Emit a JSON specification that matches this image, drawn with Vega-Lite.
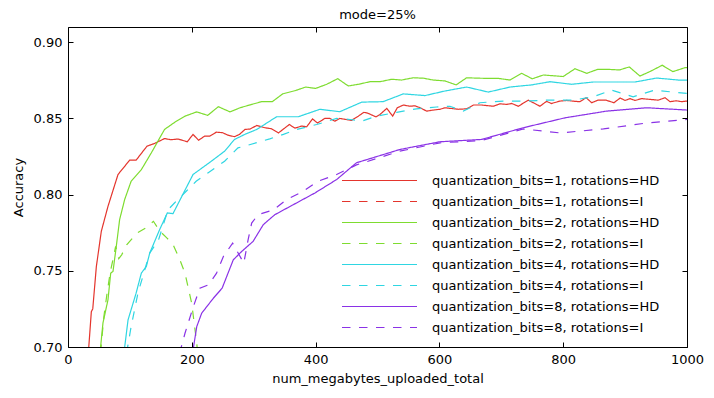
{
  "$schema": "https://vega.github.io/schema/vega-lite/v6.json",
  "width": 619,
  "height": 320,
  "autosize": {"type": "none"},
  "padding": {"left": 68, "top": 27, "right": 27, "bottom": 51},
  "background": "white",
  "title": {"text": "mode=25%", "fontSize": 13, "fontWeight": "normal", "font": "DejaVu Sans", "color": "black", "offset": 5},
  "config": {
    "view": {"stroke": "black", "strokeWidth": 1},
    "axis": {"labelFont": "DejaVu Sans", "titleFont": "DejaVu Sans", "labelFontSize": 13, "titleFontSize": 13, "labelColor": "black", "titleColor": "black", "titleFontWeight": "normal", "tickColor": "black", "domain": false, "grid": false, "tickSize": -5, "labelPadding": 11, "labelFlush": false, "labelOverlap": false},
    "legend": {"labelFont": "DejaVu Sans", "labelFontSize": 13, "labelColor": "black", "labelLimit": 500}
  },
  "data": {"values": [
    {"series": "quantization_bits=1, rotations=HD", "mb": 30, "acc": 0.68},
    {"series": "quantization_bits=1, rotations=HD", "mb": 37.7, "acc": 0.7232},
    {"series": "quantization_bits=1, rotations=HD", "mb": 40, "acc": 0.725},
    {"series": "quantization_bits=1, rotations=HD", "mb": 45.8, "acc": 0.7528},
    {"series": "quantization_bits=1, rotations=HD", "mb": 53.8, "acc": 0.7759},
    {"series": "quantization_bits=1, rotations=HD", "mb": 64.6, "acc": 0.7923},
    {"series": "quantization_bits=1, rotations=HD", "mb": 80.8, "acc": 0.8132},
    {"series": "quantization_bits=1, rotations=HD", "mb": 99.6, "acc": 0.8226},
    {"series": "quantization_bits=1, rotations=HD", "mb": 110, "acc": 0.8226},
    {"series": "quantization_bits=1, rotations=HD", "mb": 127.6, "acc": 0.8318},
    {"series": "quantization_bits=1, rotations=HD", "mb": 140, "acc": 0.8336},
    {"series": "quantization_bits=1, rotations=HD", "mb": 156, "acc": 0.8368},
    {"series": "quantization_bits=1, rotations=HD", "mb": 166, "acc": 0.836},
    {"series": "quantization_bits=1, rotations=HD", "mb": 177.7, "acc": 0.8365},
    {"series": "quantization_bits=1, rotations=HD", "mb": 192.7, "acc": 0.8347},
    {"series": "quantization_bits=1, rotations=HD", "mb": 202, "acc": 0.8395},
    {"series": "quantization_bits=1, rotations=HD", "mb": 211, "acc": 0.8357},
    {"series": "quantization_bits=1, rotations=HD", "mb": 220.7, "acc": 0.8384},
    {"series": "quantization_bits=1, rotations=HD", "mb": 229, "acc": 0.8384},
    {"series": "quantization_bits=1, rotations=HD", "mb": 239.6, "acc": 0.841},
    {"series": "quantization_bits=1, rotations=HD", "mb": 250, "acc": 0.8406},
    {"series": "quantization_bits=1, rotations=HD", "mb": 258.5, "acc": 0.839},
    {"series": "quantization_bits=1, rotations=HD", "mb": 269, "acc": 0.838},
    {"series": "quantization_bits=1, rotations=HD", "mb": 277, "acc": 0.8395},
    {"series": "quantization_bits=1, rotations=HD", "mb": 286, "acc": 0.8428},
    {"series": "quantization_bits=1, rotations=HD", "mb": 294, "acc": 0.843},
    {"series": "quantization_bits=1, rotations=HD", "mb": 305, "acc": 0.8454},
    {"series": "quantization_bits=1, rotations=HD", "mb": 318, "acc": 0.8439},
    {"series": "quantization_bits=1, rotations=HD", "mb": 329, "acc": 0.8432},
    {"series": "quantization_bits=1, rotations=HD", "mb": 340, "acc": 0.8405},
    {"series": "quantization_bits=1, rotations=HD", "mb": 357.5, "acc": 0.846},
    {"series": "quantization_bits=1, rotations=HD", "mb": 366.7, "acc": 0.8436},
    {"series": "quantization_bits=1, rotations=HD", "mb": 377.5, "acc": 0.845},
    {"series": "quantization_bits=1, rotations=HD", "mb": 385.6, "acc": 0.8445},
    {"series": "quantization_bits=1, rotations=HD", "mb": 395, "acc": 0.8497},
    {"series": "quantization_bits=1, rotations=HD", "mb": 403, "acc": 0.847},
    {"series": "quantization_bits=1, rotations=HD", "mb": 415, "acc": 0.85},
    {"series": "quantization_bits=1, rotations=HD", "mb": 423, "acc": 0.85},
    {"series": "quantization_bits=1, rotations=HD", "mb": 431, "acc": 0.8482},
    {"series": "quantization_bits=1, rotations=HD", "mb": 439, "acc": 0.85},
    {"series": "quantization_bits=1, rotations=HD", "mb": 458, "acc": 0.8487},
    {"series": "quantization_bits=1, rotations=HD", "mb": 469, "acc": 0.8515},
    {"series": "quantization_bits=1, rotations=HD", "mb": 478, "acc": 0.854},
    {"series": "quantization_bits=1, rotations=HD", "mb": 484, "acc": 0.8535},
    {"series": "quantization_bits=1, rotations=HD", "mb": 497.6, "acc": 0.851},
    {"series": "quantization_bits=1, rotations=HD", "mb": 504, "acc": 0.8526},
    {"series": "quantization_bits=1, rotations=HD", "mb": 515, "acc": 0.8566},
    {"series": "quantization_bits=1, rotations=HD", "mb": 524.5, "acc": 0.8515},
    {"series": "quantization_bits=1, rotations=HD", "mb": 532, "acc": 0.857},
    {"series": "quantization_bits=1, rotations=HD", "mb": 541.7, "acc": 0.8588},
    {"series": "quantization_bits=1, rotations=HD", "mb": 552.5, "acc": 0.858},
    {"series": "quantization_bits=1, rotations=HD", "mb": 560.6, "acc": 0.8583},
    {"series": "quantization_bits=1, rotations=HD", "mb": 568.7, "acc": 0.857},
    {"series": "quantization_bits=1, rotations=HD", "mb": 579.5, "acc": 0.8548},
    {"series": "quantization_bits=1, rotations=HD", "mb": 590, "acc": 0.8555},
    {"series": "quantization_bits=1, rotations=HD", "mb": 601, "acc": 0.856},
    {"series": "quantization_bits=1, rotations=HD", "mb": 609, "acc": 0.857},
    {"series": "quantization_bits=1, rotations=HD", "mb": 620, "acc": 0.8565},
    {"series": "quantization_bits=1, rotations=HD", "mb": 630.5, "acc": 0.856},
    {"series": "quantization_bits=1, rotations=HD", "mb": 644, "acc": 0.8563},
    {"series": "quantization_bits=1, rotations=HD", "mb": 655, "acc": 0.8588},
    {"series": "quantization_bits=1, rotations=HD", "mb": 668, "acc": 0.8588},
    {"series": "quantization_bits=1, rotations=HD", "mb": 687, "acc": 0.858},
    {"series": "quantization_bits=1, rotations=HD", "mb": 698, "acc": 0.8596},
    {"series": "quantization_bits=1, rotations=HD", "mb": 708.7, "acc": 0.8592},
    {"series": "quantization_bits=1, rotations=HD", "mb": 717, "acc": 0.8598},
    {"series": "quantization_bits=1, rotations=HD", "mb": 727.5, "acc": 0.858},
    {"series": "quantization_bits=1, rotations=HD", "mb": 743.6, "acc": 0.862},
    {"series": "quantization_bits=1, rotations=HD", "mb": 762.5, "acc": 0.858},
    {"series": "quantization_bits=1, rotations=HD", "mb": 773, "acc": 0.8612},
    {"series": "quantization_bits=1, rotations=HD", "mb": 781, "acc": 0.8598},
    {"series": "quantization_bits=1, rotations=HD", "mb": 795, "acc": 0.8614},
    {"series": "quantization_bits=1, rotations=HD", "mb": 806, "acc": 0.8618},
    {"series": "quantization_bits=1, rotations=HD", "mb": 819, "acc": 0.8612},
    {"series": "quantization_bits=1, rotations=HD", "mb": 827, "acc": 0.861},
    {"series": "quantization_bits=1, rotations=HD", "mb": 837, "acc": 0.8636},
    {"series": "quantization_bits=1, rotations=HD", "mb": 846, "acc": 0.8603},
    {"series": "quantization_bits=1, rotations=HD", "mb": 856, "acc": 0.862},
    {"series": "quantization_bits=1, rotations=HD", "mb": 869, "acc": 0.862},
    {"series": "quantization_bits=1, rotations=HD", "mb": 882, "acc": 0.8603},
    {"series": "quantization_bits=1, rotations=HD", "mb": 892, "acc": 0.8634},
    {"series": "quantization_bits=1, rotations=HD", "mb": 900, "acc": 0.8618},
    {"series": "quantization_bits=1, rotations=HD", "mb": 908, "acc": 0.863},
    {"series": "quantization_bits=1, rotations=HD", "mb": 916, "acc": 0.8618},
    {"series": "quantization_bits=1, rotations=HD", "mb": 927, "acc": 0.863},
    {"series": "quantization_bits=1, rotations=HD", "mb": 940, "acc": 0.8625},
    {"series": "quantization_bits=1, rotations=HD", "mb": 953.6, "acc": 0.862},
    {"series": "quantization_bits=1, rotations=HD", "mb": 964.5, "acc": 0.8636},
    {"series": "quantization_bits=1, rotations=HD", "mb": 972.5, "acc": 0.861},
    {"series": "quantization_bits=1, rotations=HD", "mb": 983, "acc": 0.8616},
    {"series": "quantization_bits=1, rotations=HD", "mb": 991, "acc": 0.861},
    {"series": "quantization_bits=1, rotations=HD", "mb": 1000, "acc": 0.8614},

    {"series": "quantization_bits=2, rotations=HD", "mb": 49, "acc": 0.685},
    {"series": "quantization_bits=2, rotations=HD", "mb": 56.5, "acc": 0.7158},
    {"series": "quantization_bits=2, rotations=HD", "mb": 64.6, "acc": 0.731},
    {"series": "quantization_bits=2, rotations=HD", "mb": 69, "acc": 0.7485},
    {"series": "quantization_bits=2, rotations=HD", "mb": 72.7, "acc": 0.7496},
    {"series": "quantization_bits=2, rotations=HD", "mb": 78, "acc": 0.766},
    {"series": "quantization_bits=2, rotations=HD", "mb": 83.4, "acc": 0.7836},
    {"series": "quantization_bits=2, rotations=HD", "mb": 91.5, "acc": 0.7967},
    {"series": "quantization_bits=2, rotations=HD", "mb": 102, "acc": 0.8088},
    {"series": "quantization_bits=2, rotations=HD", "mb": 118.5, "acc": 0.8164},
    {"series": "quantization_bits=2, rotations=HD", "mb": 134.6, "acc": 0.8274},
    {"series": "quantization_bits=2, rotations=HD", "mb": 156, "acc": 0.8428},
    {"series": "quantization_bits=2, rotations=HD", "mb": 172.9, "acc": 0.8476},
    {"series": "quantization_bits=2, rotations=HD", "mb": 189, "acc": 0.8515},
    {"series": "quantization_bits=2, rotations=HD", "mb": 208, "acc": 0.8543},
    {"series": "quantization_bits=2, rotations=HD", "mb": 225.7, "acc": 0.852},
    {"series": "quantization_bits=2, rotations=HD", "mb": 242.8, "acc": 0.8577},
    {"series": "quantization_bits=2, rotations=HD", "mb": 261.7, "acc": 0.8543},
    {"series": "quantization_bits=2, rotations=HD", "mb": 277.9, "acc": 0.857},
    {"series": "quantization_bits=2, rotations=HD", "mb": 296.7, "acc": 0.8592},
    {"series": "quantization_bits=2, rotations=HD", "mb": 312.9, "acc": 0.861},
    {"series": "quantization_bits=2, rotations=HD", "mb": 330, "acc": 0.861},
    {"series": "quantization_bits=2, rotations=HD", "mb": 346.8, "acc": 0.8661},
    {"series": "quantization_bits=2, rotations=HD", "mb": 366.7, "acc": 0.8682},
    {"series": "quantization_bits=2, rotations=HD", "mb": 384, "acc": 0.8706},
    {"series": "quantization_bits=2, rotations=HD", "mb": 400, "acc": 0.8697},
    {"series": "quantization_bits=2, rotations=HD", "mb": 418, "acc": 0.8724},
    {"series": "quantization_bits=2, rotations=HD", "mb": 435.7, "acc": 0.8761},
    {"series": "quantization_bits=2, rotations=HD", "mb": 452.8, "acc": 0.8713},
    {"series": "quantization_bits=2, rotations=HD", "mb": 469, "acc": 0.8724},
    {"series": "quantization_bits=2, rotations=HD", "mb": 488, "acc": 0.8741},
    {"series": "quantization_bits=2, rotations=HD", "mb": 504, "acc": 0.8741},
    {"series": "quantization_bits=2, rotations=HD", "mb": 523, "acc": 0.8757},
    {"series": "quantization_bits=2, rotations=HD", "mb": 539, "acc": 0.8752},
    {"series": "quantization_bits=2, rotations=HD", "mb": 558, "acc": 0.8767},
    {"series": "quantization_bits=2, rotations=HD", "mb": 574, "acc": 0.8764},
    {"series": "quantization_bits=2, rotations=HD", "mb": 590, "acc": 0.8752},
    {"series": "quantization_bits=2, rotations=HD", "mb": 609, "acc": 0.8746},
    {"series": "quantization_bits=2, rotations=HD", "mb": 627, "acc": 0.872},
    {"series": "quantization_bits=2, rotations=HD", "mb": 644, "acc": 0.8767},
    {"series": "quantization_bits=2, rotations=HD", "mb": 663, "acc": 0.8764},
    {"series": "quantization_bits=2, rotations=HD", "mb": 679, "acc": 0.8763},
    {"series": "quantization_bits=2, rotations=HD", "mb": 695, "acc": 0.8763},
    {"series": "quantization_bits=2, rotations=HD", "mb": 714, "acc": 0.8752},
    {"series": "quantization_bits=2, rotations=HD", "mb": 733, "acc": 0.8796},
    {"series": "quantization_bits=2, rotations=HD", "mb": 750, "acc": 0.876},
    {"series": "quantization_bits=2, rotations=HD", "mb": 768, "acc": 0.8785},
    {"series": "quantization_bits=2, rotations=HD", "mb": 784, "acc": 0.878},
    {"series": "quantization_bits=2, rotations=HD", "mb": 800, "acc": 0.8775},
    {"series": "quantization_bits=2, rotations=HD", "mb": 819, "acc": 0.8826},
    {"series": "quantization_bits=2, rotations=HD", "mb": 838, "acc": 0.8796},
    {"series": "quantization_bits=2, rotations=HD", "mb": 855.7, "acc": 0.8822},
    {"series": "quantization_bits=2, rotations=HD", "mb": 873, "acc": 0.8822},
    {"series": "quantization_bits=2, rotations=HD", "mb": 890.7, "acc": 0.8818},
    {"series": "quantization_bits=2, rotations=HD", "mb": 906.8, "acc": 0.8838},
    {"series": "quantization_bits=2, rotations=HD", "mb": 924, "acc": 0.8778},
    {"series": "quantization_bits=2, rotations=HD", "mb": 941.8, "acc": 0.8811},
    {"series": "quantization_bits=2, rotations=HD", "mb": 960, "acc": 0.8849},
    {"series": "quantization_bits=2, rotations=HD", "mb": 977, "acc": 0.8807},
    {"series": "quantization_bits=2, rotations=HD", "mb": 996.8, "acc": 0.8833},
    {"series": "quantization_bits=2, rotations=HD", "mb": 1000, "acc": 0.8834},

    {"series": "quantization_bits=2, rotations=I", "mb": 50, "acc": 0.685},
    {"series": "quantization_bits=2, rotations=I", "mb": 58, "acc": 0.72},
    {"series": "quantization_bits=2, rotations=I", "mb": 63, "acc": 0.735},
    {"series": "quantization_bits=2, rotations=I", "mb": 68, "acc": 0.7485},
    {"series": "quantization_bits=2, rotations=I", "mb": 77, "acc": 0.766},
    {"series": "quantization_bits=2, rotations=I", "mb": 82, "acc": 0.758},
    {"series": "quantization_bits=2, rotations=I", "mb": 86.7, "acc": 0.7605},
    {"series": "quantization_bits=2, rotations=I", "mb": 94.8, "acc": 0.767},
    {"series": "quantization_bits=2, rotations=I", "mb": 111, "acc": 0.7747},
    {"series": "quantization_bits=2, rotations=I", "mb": 125, "acc": 0.778},
    {"series": "quantization_bits=2, rotations=I", "mb": 138, "acc": 0.7825},
    {"series": "quantization_bits=2, rotations=I", "mb": 148.6, "acc": 0.7759},
    {"series": "quantization_bits=2, rotations=I", "mb": 160, "acc": 0.7715},
    {"series": "quantization_bits=2, rotations=I", "mb": 170, "acc": 0.767},
    {"series": "quantization_bits=2, rotations=I", "mb": 180, "acc": 0.758},
    {"series": "quantization_bits=2, rotations=I", "mb": 189, "acc": 0.7485},
    {"series": "quantization_bits=2, rotations=I", "mb": 199.8, "acc": 0.7287},
    {"series": "quantization_bits=2, rotations=I", "mb": 208, "acc": 0.7024},
    {"series": "quantization_bits=2, rotations=I", "mb": 212, "acc": 0.685},

    {"series": "quantization_bits=4, rotations=HD", "mb": 87, "acc": 0.685},
    {"series": "quantization_bits=4, rotations=HD", "mb": 97, "acc": 0.7178},
    {"series": "quantization_bits=4, rotations=HD", "mb": 110, "acc": 0.7353},
    {"series": "quantization_bits=4, rotations=HD", "mb": 118.5, "acc": 0.7485},
    {"series": "quantization_bits=4, rotations=HD", "mb": 126.5, "acc": 0.7528},
    {"series": "quantization_bits=4, rotations=HD", "mb": 132, "acc": 0.7616},
    {"series": "quantization_bits=4, rotations=HD", "mb": 148, "acc": 0.777},
    {"series": "quantization_bits=4, rotations=HD", "mb": 160.5, "acc": 0.788},
    {"series": "quantization_bits=4, rotations=HD", "mb": 169.6, "acc": 0.7875},
    {"series": "quantization_bits=4, rotations=HD", "mb": 202, "acc": 0.8132},
    {"series": "quantization_bits=4, rotations=HD", "mb": 231.5, "acc": 0.8219},
    {"series": "quantization_bits=4, rotations=HD", "mb": 253, "acc": 0.8285},
    {"series": "quantization_bits=4, rotations=HD", "mb": 269, "acc": 0.8362},
    {"series": "quantization_bits=4, rotations=HD", "mb": 285.5, "acc": 0.8395},
    {"series": "quantization_bits=4, rotations=HD", "mb": 305, "acc": 0.8428},
    {"series": "quantization_bits=4, rotations=HD", "mb": 337, "acc": 0.8511},
    {"series": "quantization_bits=4, rotations=HD", "mb": 372, "acc": 0.8511},
    {"series": "quantization_bits=4, rotations=HD", "mb": 407, "acc": 0.856},
    {"series": "quantization_bits=4, rotations=HD", "mb": 439, "acc": 0.8544},
    {"series": "quantization_bits=4, rotations=HD", "mb": 474.5, "acc": 0.8607},
    {"series": "quantization_bits=4, rotations=HD", "mb": 509, "acc": 0.861},
    {"series": "quantization_bits=4, rotations=HD", "mb": 541.7, "acc": 0.8661},
    {"series": "quantization_bits=4, rotations=HD", "mb": 576.7, "acc": 0.865},
    {"series": "quantization_bits=4, rotations=HD", "mb": 609, "acc": 0.868},
    {"series": "quantization_bits=4, rotations=HD", "mb": 644, "acc": 0.8706},
    {"series": "quantization_bits=4, rotations=HD", "mb": 679, "acc": 0.8673},
    {"series": "quantization_bits=4, rotations=HD", "mb": 714, "acc": 0.8706},
    {"series": "quantization_bits=4, rotations=HD", "mb": 749, "acc": 0.872},
    {"series": "quantization_bits=4, rotations=HD", "mb": 778.7, "acc": 0.8741},
    {"series": "quantization_bits=4, rotations=HD", "mb": 813.7, "acc": 0.8724},
    {"series": "quantization_bits=4, rotations=HD", "mb": 848.6, "acc": 0.8739},
    {"series": "quantization_bits=4, rotations=HD", "mb": 916, "acc": 0.8739},
    {"series": "quantization_bits=4, rotations=HD", "mb": 951, "acc": 0.8765},
    {"series": "quantization_bits=4, rotations=HD", "mb": 986, "acc": 0.8752},
    {"series": "quantization_bits=4, rotations=HD", "mb": 1000, "acc": 0.8752},

    {"series": "quantization_bits=4, rotations=I", "mb": 90, "acc": 0.685},
    {"series": "quantization_bits=4, rotations=I", "mb": 102, "acc": 0.7134},
    {"series": "quantization_bits=4, rotations=I", "mb": 113, "acc": 0.7353},
    {"series": "quantization_bits=4, rotations=I", "mb": 124, "acc": 0.7507},
    {"series": "quantization_bits=4, rotations=I", "mb": 132, "acc": 0.7616},
    {"series": "quantization_bits=4, rotations=I", "mb": 146, "acc": 0.77},
    {"series": "quantization_bits=4, rotations=I", "mb": 161.5, "acc": 0.79},
    {"series": "quantization_bits=4, rotations=I", "mb": 172, "acc": 0.7945},
    {"series": "quantization_bits=4, rotations=I", "mb": 191, "acc": 0.8022},
    {"series": "quantization_bits=4, rotations=I", "mb": 207, "acc": 0.8088},
    {"series": "quantization_bits=4, rotations=I", "mb": 226, "acc": 0.8142},
    {"series": "quantization_bits=4, rotations=I", "mb": 253, "acc": 0.8219},
    {"series": "quantization_bits=4, rotations=I", "mb": 274.6, "acc": 0.8307},
    {"series": "quantization_bits=4, rotations=I", "mb": 288.7, "acc": 0.8322},
    {"series": "quantization_bits=4, rotations=I", "mb": 326, "acc": 0.8366},
    {"series": "quantization_bits=4, rotations=I", "mb": 348, "acc": 0.8395},
    {"series": "quantization_bits=4, rotations=I", "mb": 369.4, "acc": 0.8428},
    {"series": "quantization_bits=4, rotations=I", "mb": 401.8, "acc": 0.846},
    {"series": "quantization_bits=4, rotations=I", "mb": 434, "acc": 0.85},
    {"series": "quantization_bits=4, rotations=I", "mb": 455.6, "acc": 0.8493},
    {"series": "quantization_bits=4, rotations=I", "mb": 474.5, "acc": 0.8482},
    {"series": "quantization_bits=4, rotations=I", "mb": 498.7, "acc": 0.8515},
    {"series": "quantization_bits=4, rotations=I", "mb": 531, "acc": 0.854},
    {"series": "quantization_bits=4, rotations=I", "mb": 563, "acc": 0.8563},
    {"series": "quantization_bits=4, rotations=I", "mb": 595.6, "acc": 0.8575},
    {"series": "quantization_bits=4, rotations=I", "mb": 617, "acc": 0.858},
    {"series": "quantization_bits=4, rotations=I", "mb": 638.6, "acc": 0.8548},
    {"series": "quantization_bits=4, rotations=I", "mb": 665.6, "acc": 0.8603},
    {"series": "quantization_bits=4, rotations=I", "mb": 703, "acc": 0.8614},
    {"series": "quantization_bits=4, rotations=I", "mb": 741, "acc": 0.8614},
    {"series": "quantization_bits=4, rotations=I", "mb": 773, "acc": 0.862},
    {"series": "quantization_bits=4, rotations=I", "mb": 816, "acc": 0.862},
    {"series": "quantization_bits=4, rotations=I", "mb": 848.6, "acc": 0.8642},
    {"series": "quantization_bits=4, rotations=I", "mb": 878, "acc": 0.8686},
    {"series": "quantization_bits=4, rotations=I", "mb": 913, "acc": 0.8642},
    {"series": "quantization_bits=4, rotations=I", "mb": 948, "acc": 0.8686},
    {"series": "quantization_bits=4, rotations=I", "mb": 972.5, "acc": 0.8675},
    {"series": "quantization_bits=4, rotations=I", "mb": 1000, "acc": 0.8664},

    {"series": "quantization_bits=8, rotations=HD", "mb": 197, "acc": 0.685},
    {"series": "quantization_bits=8, rotations=HD", "mb": 208, "acc": 0.7134},
    {"series": "quantization_bits=8, rotations=HD", "mb": 216, "acc": 0.7222},
    {"series": "quantization_bits=8, rotations=HD", "mb": 234.8, "acc": 0.732},
    {"series": "quantization_bits=8, rotations=HD", "mb": 249, "acc": 0.7386},
    {"series": "quantization_bits=8, rotations=HD", "mb": 267, "acc": 0.7572},
    {"series": "quantization_bits=8, rotations=HD", "mb": 280.6, "acc": 0.7627},
    {"series": "quantization_bits=8, rotations=HD", "mb": 299, "acc": 0.7693},
    {"series": "quantization_bits=8, rotations=HD", "mb": 315.5, "acc": 0.7803},
    {"series": "quantization_bits=8, rotations=HD", "mb": 334, "acc": 0.7868},
    {"series": "quantization_bits=8, rotations=HD", "mb": 364, "acc": 0.7934},
    {"series": "quantization_bits=8, rotations=HD", "mb": 399, "acc": 0.8011},
    {"series": "quantization_bits=8, rotations=HD", "mb": 434, "acc": 0.8099},
    {"series": "quantization_bits=8, rotations=HD", "mb": 466, "acc": 0.8209},
    {"series": "quantization_bits=8, rotations=HD", "mb": 536, "acc": 0.8296},
    {"series": "quantization_bits=8, rotations=HD", "mb": 601, "acc": 0.8347},
    {"series": "quantization_bits=8, rotations=HD", "mb": 668, "acc": 0.8362},
    {"series": "quantization_bits=8, rotations=HD", "mb": 735.6, "acc": 0.8439},
    {"series": "quantization_bits=8, rotations=HD", "mb": 803, "acc": 0.8504},
    {"series": "quantization_bits=8, rotations=HD", "mb": 870, "acc": 0.8548},
    {"series": "quantization_bits=8, rotations=HD", "mb": 935, "acc": 0.857},
    {"series": "quantization_bits=8, rotations=HD", "mb": 1000, "acc": 0.8555},

    {"series": "quantization_bits=8, rotations=I", "mb": 173, "acc": 0.685},
    {"series": "quantization_bits=8, rotations=I", "mb": 189, "acc": 0.709},
    {"series": "quantization_bits=8, rotations=I", "mb": 202.5, "acc": 0.7265},
    {"series": "quantization_bits=8, rotations=I", "mb": 213, "acc": 0.7386},
    {"series": "quantization_bits=8, rotations=I", "mb": 227, "acc": 0.7408},
    {"series": "quantization_bits=8, rotations=I", "mb": 240, "acc": 0.7485},
    {"series": "quantization_bits=8, rotations=I", "mb": 251, "acc": 0.7594},
    {"series": "quantization_bits=8, rotations=I", "mb": 266, "acc": 0.7682},
    {"series": "quantization_bits=8, rotations=I", "mb": 284, "acc": 0.755},
    {"series": "quantization_bits=8, rotations=I", "mb": 291, "acc": 0.7704},
    {"series": "quantization_bits=8, rotations=I", "mb": 296.7, "acc": 0.7813},
    {"series": "quantization_bits=8, rotations=I", "mb": 307, "acc": 0.7868},
    {"series": "quantization_bits=8, rotations=I", "mb": 331.7, "acc": 0.79},
    {"series": "quantization_bits=8, rotations=I", "mb": 353, "acc": 0.7967},
    {"series": "quantization_bits=8, rotations=I", "mb": 380, "acc": 0.8022},
    {"series": "quantization_bits=8, rotations=I", "mb": 404, "acc": 0.8088},
    {"series": "quantization_bits=8, rotations=I", "mb": 434, "acc": 0.8132},
    {"series": "quantization_bits=8, rotations=I", "mb": 466, "acc": 0.8195},
    {"series": "quantization_bits=8, rotations=I", "mb": 536, "acc": 0.8285},
    {"series": "quantization_bits=8, rotations=I", "mb": 601, "acc": 0.834},
    {"series": "quantization_bits=8, rotations=I", "mb": 668, "acc": 0.8355},
    {"series": "quantization_bits=8, rotations=I", "mb": 735.6, "acc": 0.8431},
    {"series": "quantization_bits=8, rotations=I", "mb": 795, "acc": 0.8405},
    {"series": "quantization_bits=8, rotations=I", "mb": 865, "acc": 0.8431},
    {"series": "quantization_bits=8, rotations=I", "mb": 935, "acc": 0.847},
    {"series": "quantization_bits=8, rotations=I", "mb": 1000, "acc": 0.8493}
  ]},
  "resolve": {"axis": {"x": "independent", "y": "independent"}},
  "layer": [
    {
      "mark": {"type": "line", "clip": true, "strokeWidth": 1.2},
      "encoding": {
        "x": {"field": "mb", "type": "quantitative", "scale": {"domain": [0, 1000], "nice": false, "zero": false},
              "axis": {"title": "num_megabytes_uploaded_total", "values": [0, 200, 400, 600, 800, 1000], "format": "d", "titlePadding": 6}},
        "y": {"field": "acc", "type": "quantitative", "scale": {"domain": [0.7, 0.91], "nice": false, "zero": false},
              "axis": {"title": "Accuracy", "values": [0.7, 0.75, 0.8, 0.85, 0.9], "format": ".2f", "titlePadding": 8}},
        "color": {"field": "series", "type": "nominal",
          "scale": {
            "domain": ["quantization_bits=1, rotations=HD", "quantization_bits=2, rotations=HD", "quantization_bits=4, rotations=HD", "quantization_bits=8, rotations=HD", "quantization_bits=1, rotations=I", "quantization_bits=2, rotations=I", "quantization_bits=4, rotations=I", "quantization_bits=8, rotations=I"],
            "range": ["#e4352d", "#7edc30", "#2fd6e2", "#8a32e6", "#e4352d", "#7edc30", "#2fd6e2", "#8a32e6"]
          },
          "legend": null
        },
        "strokeDash": {"field": "series", "type": "nominal",
          "scale": {
            "domain": ["quantization_bits=1, rotations=HD", "quantization_bits=1, rotations=I", "quantization_bits=2, rotations=HD", "quantization_bits=2, rotations=I", "quantization_bits=4, rotations=HD", "quantization_bits=4, rotations=I", "quantization_bits=8, rotations=HD", "quantization_bits=8, rotations=I"],
            "range": [[1, 0], [8.5, 8.5], [1, 0], [8.5, 8.5], [1, 0], [8.5, 8.5], [1, 0], [8.5, 8.5]]
          },
          "legend": {"title": null, "orient": "none", "legendX": 273, "legendY": 143, "symbolType": "stroke", "symbolSize": 5625, "symbolStrokeWidth": 1.2, "clipHeight": 21, "rowPadding": 0, "labelOffset": 14, "padding": 0, "labelFontSize": 13, "labelLimit": 500,
            "encode": {"symbols": {"update": {"stroke": {"signal": "indexof(datum.value, 'bits=1,') >= 0 ? '#e4352d' : indexof(datum.value, 'bits=2,') >= 0 ? '#7edc30' : indexof(datum.value, 'bits=4,') >= 0 ? '#2fd6e2' : '#8a32e6'"}, "strokeOpacity": {"value": 1}, "opacity": {"value": 1}}}}}
        }
      }
    },
    {
      "mark": {"type": "point", "opacity": 0},
      "encoding": {
        "x": {"field": "mb", "type": "quantitative", "axis": {"orient": "top", "labels": false, "title": null, "values": [0, 200, 400, 600, 800, 1000]}},
        "y": {"field": "acc", "type": "quantitative", "axis": {"orient": "right", "labels": false, "title": null, "values": [0.7, 0.75, 0.8, 0.85, 0.9]}}
      }
    }
  ]
}
